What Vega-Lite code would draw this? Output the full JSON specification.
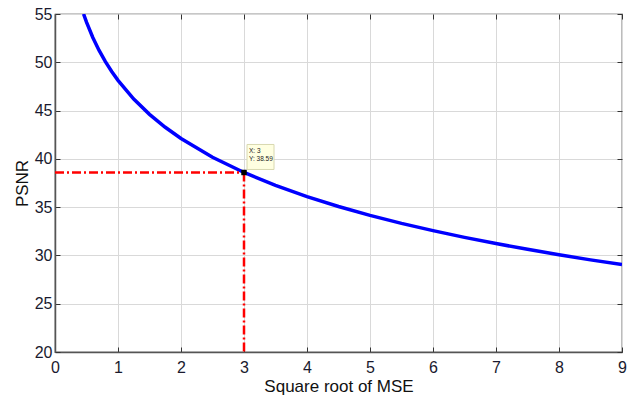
{
  "$schema": "https://vega.github.io/schema/vega-lite/v6.json",
  "width": 567,
  "height": 338,
  "autosize": "none",
  "padding": {"left": 55, "top": 14, "right": 8, "bottom": 46},
  "background": "white",
  "config": {
    "view": {"stroke": "#222222", "strokeWidth": 1.2},
    "axis": {
      "labelFont": "Liberation Sans",
      "titleFont": "Liberation Sans",
      "labelFontSize": 16,
      "titleFontSize": 17,
      "titleFontWeight": "normal",
      "labelColor": "#1a1a2e",
      "titleColor": "#111111",
      "labelFlush": false,
      "labelOverlap": false,
      "gridColor": "#d9d9d9",
      "gridWidth": 1,
      "domainColor": "#555555",
      "domainWidth": 1.5,
      "tickColor": "#333333",
      "tickSize": -5,
      "tickWidth": 1
    }
  },
  "datasets": {
    "curve": [
      {"mse": 0.4535, "psnr": 55.0},
      {"mse": 0.5, "psnr": 54.15},
      {"mse": 0.6, "psnr": 52.57},
      {"mse": 0.7, "psnr": 51.23},
      {"mse": 0.8, "psnr": 50.07},
      {"mse": 0.9, "psnr": 49.05},
      {"mse": 1.0, "psnr": 48.13},
      {"mse": 1.25, "psnr": 46.19},
      {"mse": 1.5, "psnr": 44.61},
      {"mse": 1.75, "psnr": 43.27},
      {"mse": 2.0, "psnr": 42.11},
      {"mse": 2.5, "psnr": 40.17},
      {"mse": 3.0, "psnr": 38.59},
      {"mse": 3.5, "psnr": 37.25},
      {"mse": 4.0, "psnr": 36.09},
      {"mse": 4.5, "psnr": 35.07},
      {"mse": 5.0, "psnr": 34.15},
      {"mse": 5.5, "psnr": 33.32},
      {"mse": 6.0, "psnr": 32.57},
      {"mse": 6.5, "psnr": 31.87},
      {"mse": 7.0, "psnr": 31.23},
      {"mse": 7.5, "psnr": 30.63},
      {"mse": 8.0, "psnr": 30.07},
      {"mse": 8.5, "psnr": 29.54},
      {"mse": 9.0, "psnr": 29.05}
    ],
    "guides": [
      {"x": 0, "y": 38.59, "x2": 3, "y2": 38.59},
      {"x": 3, "y": 38.59, "x2": 3, "y2": 20}
    ],
    "tip": [
      {"x": 3, "y": 38.59, "xl": "X: 3", "yl": "Y: 38.59"}
    ]
  },
  "resolve": {"axis": {"x": "independent", "y": "independent"}},
  "layer": [
    {
      "data": {"name": "curve"},
      "mark": {"type": "line", "color": "#0000ff", "strokeWidth": 3.5, "clip": true},
      "encoding": {
        "x": {
          "field": "mse", "type": "quantitative",
          "scale": {"domain": [0, 9], "nice": false, "zero": false},
          "axis": {"title": "Square root of MSE", "values": [0,1,2,3,4,5,6,7,8,9], "labelPadding": 12, "titlePadding": 3, "grid": true}
        },
        "y": {
          "field": "psnr", "type": "quantitative",
          "scale": {"domain": [20, 55], "nice": false, "zero": false},
          "axis": {"title": "PSNR", "values": [20,25,30,35,40,45,50,55], "labelPadding": 8, "titlePadding": 3, "grid": true}
        }
      }
    },
    {
      "data": {"name": "guides"},
      "mark": {"type": "rule", "color": "#ff0000", "strokeWidth": 2.5, "strokeDash": [9, 3, 2, 3]},
      "encoding": {
        "x": {"field": "x", "type": "quantitative", "axis": {"orient": "top", "labels": false, "title": null, "grid": false, "domain": false, "values": [0,1,2,3,4,5,6,7,8,9]}},
        "y": {"field": "y", "type": "quantitative", "axis": {"orient": "right", "labels": false, "title": null, "grid": false, "domain": false, "values": [20,25,30,35,40,45,50,55]}},
        "x2": {"field": "x2"},
        "y2": {"field": "y2"}
      }
    },
    {
      "data": {"name": "tip"},
      "mark": {"type": "rect", "fill": "#ffffe1", "stroke": "#d8d8b0", "strokeWidth": 1, "xOffset": 3, "x2Offset": 30, "yOffset": -28, "y2Offset": -3},
      "encoding": {
        "x": {"field": "x", "type": "quantitative", "axis": null},
        "x2": {"field": "x"},
        "y": {"field": "y", "type": "quantitative", "axis": null},
        "y2": {"field": "y"}
      }
    },
    {
      "data": {"name": "tip"},
      "mark": {"type": "point", "shape": "square", "size": 30, "filled": true, "color": "#000000", "opacity": 1},
      "encoding": {
        "x": {"field": "x", "type": "quantitative", "axis": null},
        "y": {"field": "y", "type": "quantitative", "axis": null}
      }
    },
    {
      "data": {"name": "tip"},
      "mark": {"type": "text", "font": "Liberation Sans", "fontSize": 6.5, "color": "#222222", "align": "left", "baseline": "middle", "dx": 5, "dy": -21},
      "encoding": {
        "x": {"field": "x", "type": "quantitative", "axis": null},
        "y": {"field": "y", "type": "quantitative", "axis": null},
        "text": {"field": "xl"}
      }
    },
    {
      "data": {"name": "tip"},
      "mark": {"type": "text", "font": "Liberation Sans", "fontSize": 6.5, "color": "#222222", "align": "left", "baseline": "middle", "dx": 5, "dy": -13},
      "encoding": {
        "x": {"field": "x", "type": "quantitative", "axis": null},
        "y": {"field": "y", "type": "quantitative", "axis": null},
        "text": {"field": "yl"}
      }
    }
  ]
}
